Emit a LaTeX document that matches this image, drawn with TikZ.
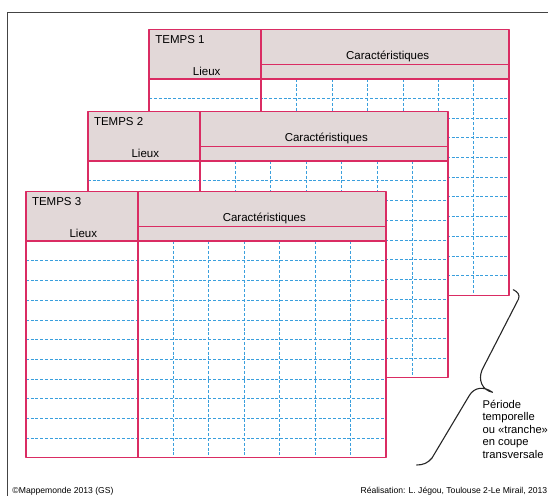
\documentclass[tikz,border=0pt]{standalone}
\usepackage{fontspec}
\setmainfont{Liberation Sans}
\definecolor{tabred}{HTML}{DA2C63}
\definecolor{tabhead}{HTML}{E2D8D8}
\definecolor{gridblue}{HTML}{3A9FDD}
\definecolor{framegray}{HTML}{444444}

\begin{document}
\begin{tikzpicture}[x=1pt, y=-1pt, line join=round,
  tabline/.style={color=tabred, line width=1.5pt},
  gridline/.style={color=gridblue, line width=0.8pt, dash pattern=on 3pt off 1.8pt},
  headtext/.style={font=\fontsize{11.5}{12.6}\selectfont, inner sep=0pt},
  foottext/.style={font=\fontsize{8.6}{10}\selectfont, inner sep=0pt}]
  \useasboundingbox (0,0) rectangle (548,495);

  % Three tables, drawn back to front
  \foreach \n/\tx/\ty in {1/149.2/29.3, 2/87.8/111.7, 3/25.8/191.7} {
    \begin{scope}[shift={(\tx,\ty)}]
      \fill[white] (0,0) rectangle (360,266);
      \fill[tabhead] (0,0) rectangle (360,49.5);

      % Dashed rows and columns
      \foreach \r in {1,...,10}
        \draw[gridline] (0,49.5+19.68*\r) -- (360,49.5+19.68*\r);
      \foreach \c in {1,...,6}
        \draw[gridline] (112+35.43*\c,49.5) -- (112+35.43*\c,266);

      % Solid frame
      \draw[tabline] (112,35) -- (360,35);
      \draw[tabline] (0,49.5) -- (360,49.5);
      \draw[tabline] (112,0) -- (112,266);
      \draw[tabline] (0,0) -- (360,0) -- (360,266) -- (0,266) -- cycle;

      % Header labels
      \node[headtext, anchor=base west] (temps\n) at (6,14) {TEMPS \n};
      \node[headtext, anchor=base] (lieux\n) at (57.5,46) {Lieux};
      \node[headtext, anchor=base] (carac\n) at (238.5,30) {Caractéristiques};
    \end{scope}
  }

  % Brace for the time slice
  \coordinate (bracetop) at (513.3,289.7);
  \coordinate (bracetip) at (492.5,392.3);
  \coordinate (bracebot) at (416.7,465);
  \draw[black!85, line width=1.1pt, line cap=round]
    (bracetop) .. controls (518,292) and (520,295) .. (518.5,299)
    -- (482,370) .. controls (478,380) and (482,390) .. (bracetip)
    .. controls (484,386) and (474,387) .. (469,396)
    -- (432,458) .. controls (428,463) and (423,465) .. (bracebot);

  % Caption of the brace (base is the last line)
  \node[headtext, font=\fontsize{11.2}{12.5}\selectfont, anchor=base west, align=left]
    (periode) at (482.4,458.3)
    {Période\\temporelle\\ou «tranche»\\en coupe\\transversale};

  % Credits
  \node[foottext, anchor=base west] (copy) at (12.3,493.5) {©Mappemonde 2013 (GS)};
  \node[foottext, anchor=base east] (realis) at (547.5,493.5)
    {Réalisation: L. Jégou, Toulouse 2-Le Mirail, 2013};

  % Outer frame (only left and top sides show)
  \draw[framegray, line width=0.8pt] (7.5,500) -- (7.5,12.7) -- (560,12.7);
\end{tikzpicture}
\end{document}
